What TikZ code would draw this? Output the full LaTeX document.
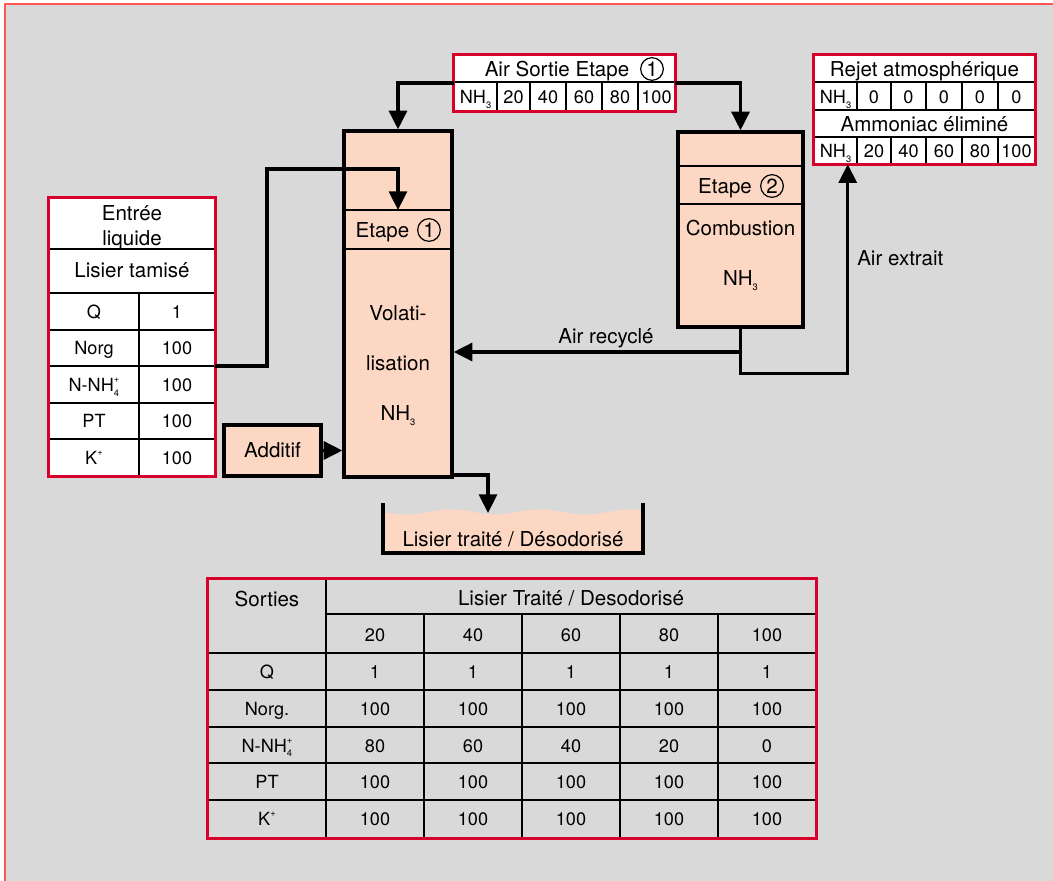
\documentclass[tikz,border=0pt]{standalone}
\usepackage{fontspec}
\setmainfont{TeX Gyre Heros}
\usetikzlibrary{arrows.meta,fit,calc}
\definecolor{peach}{RGB}{252,216,196}
\definecolor{bggray}{RGB}{217,217,217}
\definecolor{tabred}{RGB}{214,0,42}
\definecolor{framered}{RGB}{255,85,85}
\newcommand\sbs[1]{\raisebox{-0.5ex}{\fontsize{7}{7}\selectfont #1}}
\newcommand\sps[1]{\raisebox{0.95ex}{\fontsize{7}{7}\selectfont #1}}
\newcommand\nhtrois{NH\sbs{3}}
\newcommand\nnhq{N-NH\rlap{\sbs{4}}\sps{+}}
\newcommand\kplus{K\sps{+}}
\tikzset{
  box/.style={draw=black, line width=2.5pt, fill=peach, inner sep=0pt},
  tabfill/.style={fill=white, inner sep=0pt},
  tabempty/.style={inner sep=0pt},
  tabborder/.style={draw=tabred, line width=2.3pt},
  cell/.style={line width=1.3pt},
  divline/.style={line width=1.7pt},
  plain/.style={line width=2.4pt},
  conn/.style={line width=2.4pt, -{Triangle[length=14pt,width=13.5pt]}},
  big/.style={font=\fontsize{15.4}{18}\selectfont, inner sep=0pt, text height=11pt, text depth=0pt},
  val/.style={font=\fontsize{13.6}{16}\selectfont, inner sep=0pt, text height=9.8pt, text depth=0pt},
  circnum/.style={circle, draw, line width=0.9pt, minimum size=17pt, inner sep=0pt, font=\fontsize{15.4}{18}\selectfont},
}
\begin{document}
\begin{tikzpicture}[x=0.75pt,y=-0.75pt]
\useasboundingbox (0,0) rectangle (1053,881);
% frame
\fill[bggray] (5,4) rectangle (1053,881);
\draw[framered, line width=1.5pt] (5,881) -- (5,4) -- (1053,4);

% ---------- top table: Air Sortie Etape 1
\node[tabfill, fit={(454,55) (675,111)}] (t1) {};
\draw[cell] (454,82) -- (675,82);
\foreach \x in {497,530,566,602,638} \draw[cell] (\x,82) -- (\x,111);
\draw[tabborder] (t1.north west) rectangle (t1.south east);
\node[big] (t1a) at (557,69) {Air Sortie Etape};
\node[circnum] (t1c) at (652,69) {1};
\node[val] (t1n) at (475.5,97) {\nhtrois};
\foreach \x/\v [count=\i] in {513.5/20,548/40,584/60,620/80,656.5/100}
  \node[val] (t1v\i) at (\x,97) {\v};

% ---------- right table
\node[tabfill, fit={(814,55) (1035,164)}] (R) {};
\foreach \y in {82,110,137} \draw[cell] (814,\y) -- (1035,\y);
\foreach \x in {857,891,926,962,998} {
  \draw[cell] (\x,82) -- (\x,110);
  \draw[cell] (\x,137) -- (\x,164);
}
\draw[tabborder] (R.north west) rectangle (R.south east);
\node[big] (ra) at (924.5,69) {Rejet atmosphérique};
\node[val] (rn1) at (835.5,97) {\nhtrois};
\foreach \x [count=\i] in {874,908.5,944,980,1016.5}
  \node[val] (rz\i) at (\x,97) {0};
\node[big] (rb) at (924.5,124) {Ammoniac éliminé};
\node[val] (rn2) at (835.5,151) {\nhtrois};
\foreach \x/\v [count=\i] in {874/20,908.5/40,944/60,980/80,1016.5/100}
  \node[val] (rv\i) at (\x,151) {\v};

% ---------- volatilisation column
\node[box, fit={(344,131) (452,477)}] (vol) {};
\draw[divline] (344,210) -- (452,210);
\draw[divline] (344,249) -- (452,249);
\node[big] (ve) at (382.5,230) {Etape};
\node[circnum] (vc) at (429,230) {1};
\node[big] (vt1) at (398,313) {Volati-};
\node[big] (vt2) at (398,363) {lisation};
\node[big] (vt3) at (398,413) {\nhtrois};

% ---------- combustion column
\node[box, fit={(678,132) (803,327)}] (comb) {};
\draw[divline] (678,166) -- (803,166);
\draw[divline] (678,204) -- (803,204);
\node[big] (ce) at (725,186) {Etape};
\node[circnum] (cc) at (772,186) {2};
\node[big] (ct1) at (740.5,228) {Combustion};
\node[big] (ct2) at (740.5,278) {\nhtrois};

% ---------- left table
\node[tabfill, fit={(49,198) (215,476)}] (L) {};
\foreach \y in {249,293,330,366,403,439} \draw[cell] (49,\y) -- (215,\y);
\draw[cell] (139,293) -- (139,476);
\draw[tabborder] (L.north west) rectangle (L.south east);
\node[big] (la1) at (132,213) {Entrée};
\node[big] (la2) at (132,238) {liquide};
\node[big] (la3) at (132,270) {Lisier tamisé};
\node[val] (lq) at (94,311.5) {Q};
\node[val] (lq2) at (177,311.5) {1};
\node[val] (ln) at (94,348) {Norg};
\node[val] (ln2) at (177,348) {100};
\node[val] (lh) at (94,385) {\nnhq};
\node[val] (lh2) at (177,385) {100};
\node[val] (lp) at (94,421) {PT};
\node[val] (lp2) at (177,421) {100};
\node[val] (lk) at (94,457.5) {\kplus};
\node[val] (lk2) at (177,457.5) {100};

% ---------- additif
\node[box, fit={(224,425) (321,476)}] (add) {};
\node[big] (addt) at (add.center) {Additif};

% ---------- connectors
\coordinate (lout) at (215,366);
\coordinate (vd1) at (398,210);
\draw[conn] (lout) -| (267,169) -| (vd1);
\draw[conn] (t1.west) -| (vol.north);
\draw[conn] (t1.east) -| (comb.north);
\draw[conn] (add.east) -- (add.east -| vol.west);
\draw[conn] (comb.south) |- (vol.east |- 0,352);
\coordinate (rin) at ($(R.south west)+(34,0)$);
\draw[conn] (comb.south) -- ++(0,45) -| (rin);
\node[big] (lrec) at (606,336) {Air recyclé};
\node[big, anchor=west] (lext) at (857,258) {Air extrait};

% ---------- tank
\fill[peach] (383,553) -- plot[domain=383:643,samples=80] (\x,{512+2.5*sin(4*(\x-383))}) -- (643,553) -- cycle;
\draw[plain] (383,503) -- (383,553) -- (643,553) -- (643,503);
\node[big] (tankt) at (513,539) {Lisier traité / Désodorisé};
\coordinate (vout) at (452,475);
\coordinate (tin) at (488,513);
\draw[conn] (vout) -| (tin);

% ---------- bottom table
\node[tabempty, fit={(208,579) (816,838)}] (B) {};
\draw[cell] (326,614) -- (816,614);
\foreach \y in {653,690,727,763,800} \draw[cell] (208,\y) -- (816,\y);
\draw[cell] (326,579) -- (326,838);
\foreach \x in {424,522,620,718} \draw[cell] (\x,614) -- (\x,838);
\draw[tabborder] (B.north west) rectangle (B.south east);
\node[big] (bs) at (267,599) {Sorties};
\node[big] (bh) at (571,598) {Lisier Traité / Desodorisé};
\foreach \x/\v [count=\i] in {375/20,473/40,571/60,669/80,767/100}
  \node[val] (bc\i) at (\x,635) {\v};
\node[val] (bq) at (267,672) {Q};
\node[val] (bn) at (267,709) {Norg.};
\node[val] (bh4) at (267,745.5) {\nnhq};
\node[val] (bp) at (267,782) {PT};
\node[val] (bk) at (267,819) {\kplus};
\foreach \x [count=\i] in {375,473,571,669,767} {
  \node[val] (bq\i) at (\x,672) {1};
  \node[val] (bn\i) at (\x,709) {100};
  \node[val] (bp\i) at (\x,782) {100};
  \node[val] (bk\i) at (\x,819) {100};
}
\foreach \x/\v [count=\i] in {375/80,473/60,571/40,669/20,767/0}
  \node[val] (bhv\i) at (\x,745.5) {\v};
\end{tikzpicture}
\end{document}
